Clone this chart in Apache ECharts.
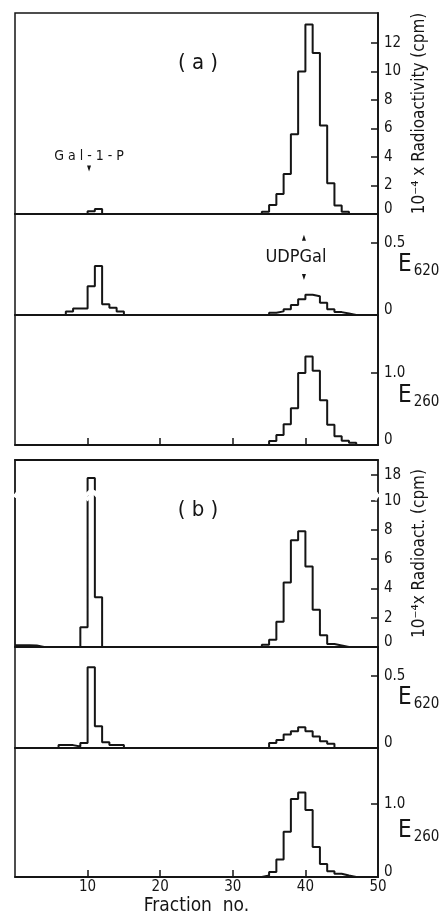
<!DOCTYPE html>
<html>
<head>
<meta charset="utf-8">
<script src="https://cdn.jsdelivr.net/npm/echarts@6/dist/echarts.min.js"></script>
<style>
  html, body { margin: 0; padding: 0; background: #fff; }
  #chart { width: 442px; height: 924px; }
</style>
</head>
<body>
<div id="chart"></div>
<script>
// Elution profiles, one value per fraction (index = fraction number 0..49)
const aRadio = [
  0, 0, 0, 0, 0, 0, 0, 0, 0, 0,
  0.2, 0.35, 0, 0, 0, 0, 0, 0, 0, 0,
  0, 0, 0, 0, 0, 0, 0, 0, 0, 0,
  0, 0, 0, 0, 0.16, 0.63, 1.4, 2.8, 5.6, 10.0,
  13.3, 11.3, 6.2, 2.15, 0.6, 0.16, 0, 0, 0, 0
];
const aE620 = [
  0, 0, 0, 0, 0, 0, 0, 0.025, 0.045, 0.045,
  0.2, 0.34, 0.075, 0.05, 0.025, 0, 0, 0, 0, 0,
  0, 0, 0, 0, 0, 0, 0, 0, 0, 0,
  0, 0, 0, 0, 0, 0.015, 0.025, 0.04, 0.07, 0.11,
  0.14, 0.13, 0.085, 0.04, 0.02, 0.01, 0, 0, 0, 0
];
const aE260 = [
  0, 0, 0, 0, 0, 0, 0, 0, 0, 0,
  0, 0, 0, 0, 0, 0, 0, 0, 0, 0,
  0, 0, 0, 0, 0, 0, 0, 0, 0, 0,
  0, 0, 0, 0, 0, 0.055, 0.14, 0.29, 0.51, 1.0,
  1.23, 1.03, 0.62, 0.28, 0.12, 0.06, 0.03, 0, 0, 0
];
const bRadio = [
  0.12, 0.12, 0.1, 0, 0, 0, 0, 0, 0, 1.35,
  17.8, 3.4, 0, 0, 0, 0, 0, 0, 0, 0,
  0, 0, 0, 0, 0, 0, 0, 0, 0, 0,
  0, 0, 0, 0, 0.16, 0.5, 1.72, 4.4, 7.3, 7.9,
  5.5, 2.55, 0.8, 0.2, 0.1, 0, 0, 0, 0, 0
];
const bE620 = [
  0, 0, 0, 0, 0, 0, 0.02, 0.02, 0.01, 0.035,
  0.56, 0.15, 0.04, 0.02, 0.02, 0, 0, 0, 0, 0,
  0, 0, 0, 0, 0, 0, 0, 0, 0, 0,
  0, 0, 0, 0, 0, 0.035, 0.055, 0.093, 0.116, 0.144,
  0.116, 0.08, 0.046, 0.03, 0, 0, 0, 0, 0, 0
];
const bE260 = [
  0, 0, 0, 0, 0, 0, 0, 0, 0, 0,
  0, 0, 0, 0, 0, 0, 0, 0, 0, 0,
  0, 0, 0, 0, 0, 0, 0, 0, 0, 0,
  0, 0, 0, 0, 0.02, 0.07, 0.24, 0.62, 1.07, 1.16,
  0.92, 0.41, 0.18, 0.08, 0.045, 0.02, 0, 0, 0, 0
];

// Axis ticks and labels
const radioATicks = [0, 2, 4, 6, 8, 10, 12];
const radioBTicks = [0, 2, 4, 6, 8, 10, 18];
const e620Ticks = [0, 0.5];
const e260Ticks = [0, 1.0];
const fractionTicks = [10, 20, 30, 40, 50];
const fractionInnerTicks = [10, 20, 30, 40];

// Broken range on the radioactivity axis of panel (b)
const radioBBreak = { start: 10.2, end: 16.8, gap: '2.7%' };
const radioBMax = 19.03;

// Annotation positions (fraction, value)
const galArrow = [10.2, 3.2];
const udpUpArrow = [39.8, 0.535];
const udpDownArrow = [39.8, 0.264];
const udpText = [38.7, 0.40];

const INK = '#151515';
const FONT = "'Liberation Sans Narrow', 'DejaVu Sans Condensed', 'Liberation Sans', sans-serif";

const chart = echarts.init(document.getElementById('chart'), null, { renderer: 'canvas' });

const gridDefs = [
  { top: 13, height: 201, frame: true },
  { top: 214, height: 101, frame: true },
  { top: 315, height: 130, frame: true },
  { top: 460, height: 187, frame: false },
  { top: 647, height: 101, frame: true },
  { top: 748, height: 129, frame: true }
];
const grids = gridDefs.map(g => ({
  left: 15, right: 64, top: g.top, height: g.height,
  containLabel: false, outerBoundsMode: 'none',
  show: g.frame, borderColor: INK, borderWidth: 1.5, backgroundColor: 'transparent'
}));

const breakAreaStyle = {
  show: true,
  itemStyle: { color: '#fff', borderColor: 'rgba(0,0,0,0)', borderWidth: 0, opacity: 1 },
  zigzagAmplitude: 4
};

// mode: 'plain' (no ticks), 'ticks' (inner ticks only), 'labelled' (ticks, labels and name)
function xAxisFor(i, mode) {
  const ticks = mode !== 'plain';
  const labelled = mode === 'labelled';
  return {
    type: 'value', gridIndex: i, min: 0, max: 50, interval: 10,
    axisLine: { show: true, onZero: false, lineStyle: { color: INK, width: 1.8 } },
    axisTick: ticks ? { show: true, inside: true, length: 7, customValues: fractionInnerTicks, lineStyle: { color: INK, width: 1.5 } } : { show: false },
    axisLabel: labelled ? { show: true, customValues: fractionTicks, margin: 3, color: INK, fontSize: 15, fontFamily: FONT } : { show: false },
    splitLine: { show: false },
    name: labelled ? 'Fraction  no.' : '',
    nameLocation: 'middle', nameGap: 20,
    nameTextStyle: { color: INK, fontSize: 19, fontFamily: FONT }
  };
}

function zeroLift(v, fmt) {
  if (v === 0) return '{z|0}';
  return fmt ? fmt(v) : String(v);
}
const labelRich = { z: { padding: [0, 0, 9, 0], fontSize: 15, fontFamily: FONT, color: INK } };

function yAxisFor(i, max, ticks, fmt, extra) {
  return Object.assign({
    type: 'value', gridIndex: i, position: 'right', min: 0, max: max,
    axisLine: { show: true, onZero: false, lineStyle: { color: INK, width: 1.8 } },
    axisTick: { show: true, inside: true, length: 7, customValues: ticks, lineStyle: { color: INK, width: 1.5 } },
    axisLabel: { show: true, customValues: ticks, margin: 6, color: INK, fontSize: 15, fontFamily: FONT,
      formatter: v => zeroLift(v, fmt), rich: labelRich },
    splitLine: { show: false },
    nameLocation: 'middle',
    nameMoveOverlap: false
  }, extra);
}

const eName = (sub, padTop) => ({
  name: '{e|E}{s|' + sub + '}',
  nameRotate: 0,
  nameGap: 20,
  nameTextStyle: {
    align: 'left', verticalAlign: 'middle', padding: [padTop, 0, 0, 0],
    rich: {
      e: { fontSize: 24, color: INK, fontFamily: FONT },
      s: { fontSize: 15, color: INK, fontFamily: FONT, padding: [13, 0, 0, 2] }
    }
  }
});

const oneDec = v => v.toFixed(1);

const yAxes = [
  yAxisFor(0, 14.1, radioATicks, null, {
    name: '10⁻⁴ x Radioactivity (cpm)', nameRotate: 90, nameGap: 33,
    nameTextStyle: { color: INK, fontSize: 17, fontFamily: FONT, padding: [0, 0, 0, 0] }
  }),
  yAxisFor(1, 0.70, e620Ticks, oneDec, eName('620', 0)),
  yAxisFor(2, 1.806, e260Ticks, oneDec, eName('260', 32)),
  yAxisFor(3, radioBMax, radioBTicks, null, {
    name: '10⁻⁴x Radioact. (cpm)', nameRotate: 90, nameGap: 33,
    nameTextStyle: { color: INK, fontSize: 17, fontFamily: FONT },
    breaks: [radioBBreak],
    breakArea: breakAreaStyle
  }),
  yAxisFor(4, 0.70, e620Ticks, oneDec, eName('620', 0)),
  yAxisFor(5, 1.77, e260Ticks, oneDec, eName('260', 36)),
  // left frame line of panel (b), broken like its right-hand scale
  {
    type: 'value', gridIndex: 3, position: 'left', min: 0, max: radioBMax,
    breaks: [radioBBreak], breakArea: breakAreaStyle,
    axisLine: { show: true, onZero: false, lineStyle: { color: INK, width: 1.8 } },
    axisTick: { show: false }, axisLabel: { show: false }, splitLine: { show: false }
  }
];

const xAxes = [
  xAxisFor(0, 'plain'), xAxisFor(1, 'plain'), xAxisFor(2, 'ticks'),
  xAxisFor(3, 'plain'), xAxisFor(4, 'plain'), xAxisFor(5, 'labelled'),
  // top frame line of panel (b)
  {
    type: 'value', gridIndex: 3, position: 'top', min: 0, max: 50,
    axisLine: { show: true, onZero: false, lineStyle: { color: INK, width: 1.8 } },
    axisTick: { show: false }, axisLabel: { show: false }, splitLine: { show: false }
  }
];

function stepSeries(i, values, extra) {
  const data = values.map((v, f) => [f, v]);
  data.push([50, 0]);
  return Object.assign({
    type: 'line', xAxisIndex: i, yAxisIndex: i, step: 'end',
    data: data, symbol: 'none', silent: true, animation: false,
    lineStyle: { color: INK, width: 2 }
  }, extra || {});
}

const arrowStyle = { color: INK };
const annLabel = { color: INK, fontFamily: FONT };

const series = [
  stepSeries(0, aRadio, {
    markPoint: {
      silent: true, animation: false,
      data: [{
        coord: galArrow, symbol: 'triangle', symbolRotate: 180, symbolSize: [4, 6],
        itemStyle: arrowStyle,
        label: Object.assign({ show: true, position: 'top', distance: 2, formatter: 'G a l - 1 - P', fontSize: 14 }, annLabel)
      }]
    }
  }),
  stepSeries(1, aE620, {
    markPoint: {
      silent: true, animation: false,
      data: [
        { coord: udpUpArrow, symbol: 'triangle', symbolSize: [4, 6], itemStyle: arrowStyle, label: { show: false } },
        { coord: udpDownArrow, symbol: 'triangle', symbolRotate: 180, symbolSize: [4, 6], itemStyle: arrowStyle, label: { show: false } },
        { coord: udpText, symbol: 'circle', symbolSize: 0,
          label: Object.assign({ show: true, position: 'inside', formatter: 'UDPGal', fontSize: 18 }, annLabel) }
      ]
    }
  }),
  stepSeries(2, aE260),
  stepSeries(3, bRadio),
  stepSeries(4, bE620),
  stepSeries(5, bE260)
];

chart.setOption({
  animation: false,
  textStyle: { fontFamily: FONT },
  grid: grids,
  xAxis: xAxes,
  yAxis: yAxes,
  series: series,
  graphic: [
    { type: 'text', x: 198, y: 63, style: { text: '( a )', font: '22px ' + FONT, fill: INK, textAlign: 'center', textVerticalAlign: 'middle' } },
    { type: 'text', x: 198, y: 510, style: { text: '( b )', font: '22px ' + FONT, fill: INK, textAlign: 'center', textVerticalAlign: 'middle' } }
  ]
});
</script>
</body>
</html>
